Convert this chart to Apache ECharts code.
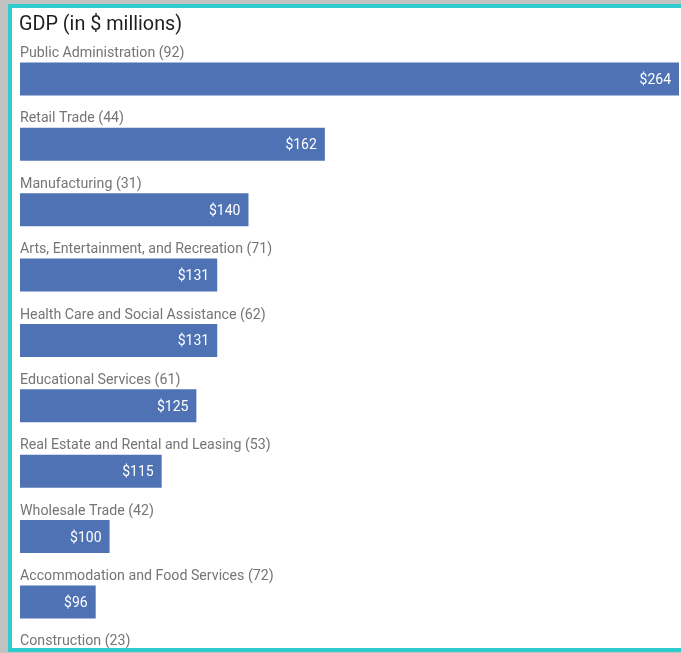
<!DOCTYPE html>
<html>
<head>
<meta charset="utf-8">
<script src="https://cdn.jsdelivr.net/npm/echarts@6/dist/echarts.min.js"></script>
<style>
  html, body { margin: 0; padding: 0; width: 681px; height: 653px; overflow: hidden; background: #c2c2c2; }
  #frame {
    position: absolute; left: 8px; top: 4px;
    width: 720px; height: 640px;
    border: 4px solid #2ecccc; border-top-width: 4px;
    background: #ffffff; overflow: hidden;
  }
  #chart { position: absolute; left: 0; top: 0; width: 669px; height: 720px; }
</style>
</head>
<body>
<div id="frame"><div id="chart"></div></div>
<script>
const titleText = 'GDP (in $ millions)';
const categories = [
  'Public Administration',
  'Retail Trade',
  'Manufacturing',
  'Arts, Entertainment, and Recreation',
  'Health Care and Social Assistance',
  'Educational Services',
  'Real Estate and Rental and Leasing',
  'Wholesale Trade',
  'Accommodation and Food Services',
  'Construction'
];
const counts = [92, 44, 31, 71, 62, 61, 53, 42, 72, 23];
const gdp = [264, 162, 140, 131, 131, 125, 115, 100, 96, 90];

const chart = echarts.init(document.getElementById('chart'), null, { renderer: 'canvas' });
chart.setOption({
  animation: false,
  textStyle: { fontFamily: 'Roboto' },
  title: {
    text: titleText,
    left: 2, top: 2,
    textStyle: { fontFamily: 'Roboto', fontSize: 19.8, fontWeight: 'normal', color: '#1f1f1f' }
  },
  grid: { left: 8, right: 2, top: 38.3, height: 653.75, containLabel: false },
  xAxis: { type: 'value', min: 74.2, max: 264, show: false },
  yAxis: {
    type: 'category', data: categories, inverse: true,
    axisLine: { show: false }, axisTick: { show: false }, axisLabel: { show: false }, splitLine: { show: false }
  },
  series: [
    {
      type: 'bar', data: gdp, barWidth: 33,
      itemStyle: { color: '#4e72b4' },
      label: {
        show: true, position: 'insideRight', distance: 8, offset: [0, 1.5],
        formatter: p => '$' + p.value,
        color: '#ffffff', fontSize: 14, fontFamily: 'Roboto'
      }
    },
    {
      type: 'bar', data: gdp, barWidth: 33, barGap: '-100%', silent: true,
      itemStyle: { color: 'rgba(0,0,0,0)' },
      label: {
        show: true, position: [0, -2], align: 'left', verticalAlign: 'bottom',
        formatter: p => p.name + ' (' + counts[p.dataIndex] + ')',
        color: '#757575', fontSize: 14.2, fontFamily: 'Roboto'
      }
    }
  ]
});
</script>
</body>
</html>
